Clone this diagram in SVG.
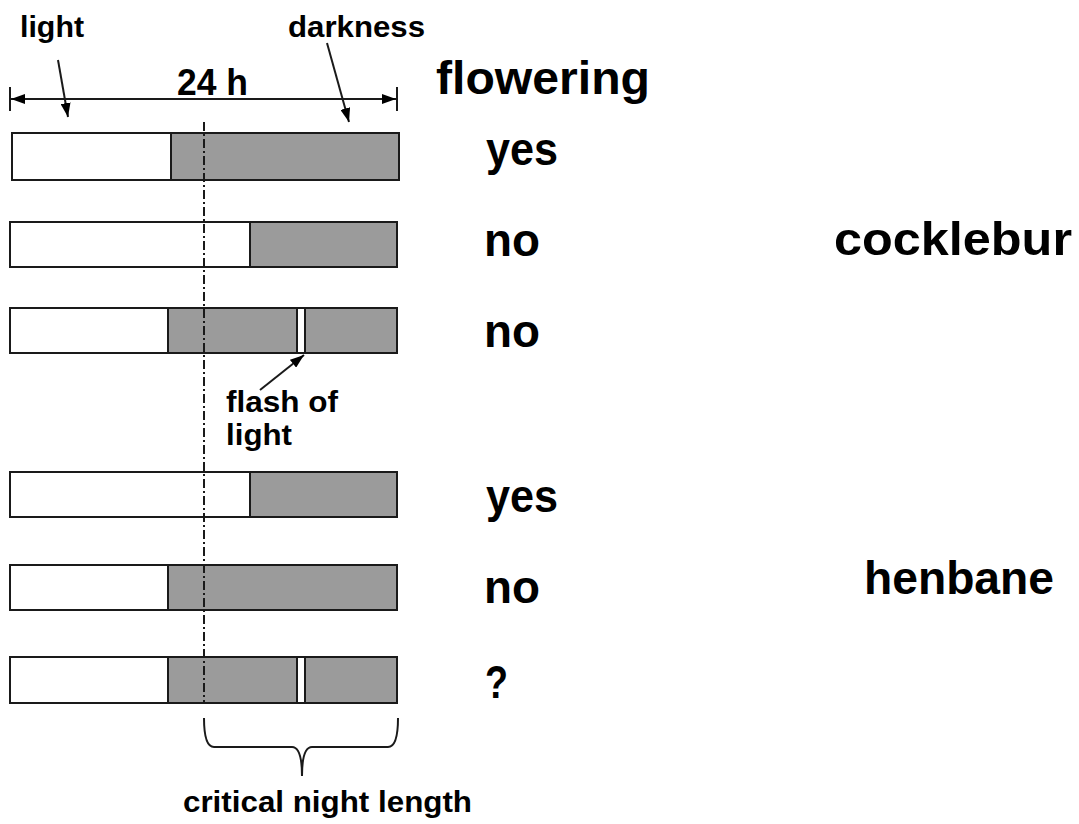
<svg xmlns="http://www.w3.org/2000/svg" width="1079" height="824" viewBox="0 0 1079 824">
<defs>
<style>
.bar{stroke:#1a1a1a;stroke-width:2}
.lt{fill:#ffffff}
.dk{fill:#9b9b9b}
.t{font-family:"Liberation Sans",Arial,sans-serif;font-weight:bold;fill:#000}
.big{font-size:46px}
.sm{font-size:30px}
.ln{stroke:#1a1a1a;stroke-width:2;fill:none}
</style>
<marker id="ah" viewBox="0 0 14 10" refX="14" refY="5" markerWidth="14" markerHeight="10" markerUnits="userSpaceOnUse" orient="auto-start-reverse">
<path d="M0,0 L14,5 L0,10 Z" fill="#000"/>
</marker>
</defs>
<rect width="1079" height="824" fill="#fff"/>

<g id="header">
<text class="t sm" x="20" y="37" textLength="64" lengthAdjust="spacingAndGlyphs">light</text>
<text class="t sm" x="288" y="37" textLength="137" lengthAdjust="spacingAndGlyphs">darkness</text>
<text class="t" x="177" y="95" font-size="36" textLength="71" lengthAdjust="spacingAndGlyphs">24 h</text>
<text class="t big" x="436" y="94" textLength="214" lengthAdjust="spacingAndGlyphs">flowering</text>
</g>

<g id="bar1">
<rect class="bar lt" x="12" y="133" width="387" height="47"/>
<rect class="bar dk" x="171" y="133" width="228" height="47"/>
<text class="t big" x="486" y="165" textLength="72" lengthAdjust="spacingAndGlyphs">yes</text>
</g>
<g id="bar2">
<rect class="bar lt" x="10" y="222" width="387" height="45"/>
<rect class="bar dk" x="250" y="222" width="147" height="45"/>
<text class="t big" x="484" y="256" textLength="56" lengthAdjust="spacingAndGlyphs">no</text>
</g>
<g id="cocklebur">
<text class="t big" x="834" y="255" textLength="238" lengthAdjust="spacingAndGlyphs">cocklebur</text>
</g>
<g id="bar3">
<rect class="bar lt" x="10" y="308" width="387" height="45"/>
<rect class="bar dk" x="168" y="308" width="229" height="45"/>
<rect class="bar lt" x="297" y="308" width="8" height="45"/>
<text class="t big" x="484" y="347" textLength="56" lengthAdjust="spacingAndGlyphs">no</text>
</g>
<g id="flash">
<text class="t sm" x="226" y="412" textLength="112" lengthAdjust="spacingAndGlyphs">flash of</text>
<text class="t sm" x="226" y="445" textLength="66" lengthAdjust="spacingAndGlyphs">light</text>
</g>
<g id="bar4">
<rect class="bar lt" x="10" y="472" width="387" height="45"/>
<rect class="bar dk" x="250" y="472" width="147" height="45"/>
<text class="t big" x="486" y="512" textLength="72" lengthAdjust="spacingAndGlyphs">yes</text>
</g>
<g id="bar5">
<rect class="bar lt" x="10" y="565" width="387" height="45"/>
<rect class="bar dk" x="168" y="565" width="229" height="45"/>
<text class="t big" x="484" y="603" textLength="56" lengthAdjust="spacingAndGlyphs">no</text>
</g>
<g id="henbane">
<text class="t big" x="864" y="594" textLength="190" lengthAdjust="spacingAndGlyphs">henbane</text>
</g>
<g id="bar6">
<rect class="bar lt" x="10" y="657" width="387" height="46"/>
<rect class="bar dk" x="168" y="657" width="229" height="46"/>
<rect class="bar lt" x="297" y="657" width="8" height="46"/>
<text class="t big" x="485" y="698" textLength="23" lengthAdjust="spacingAndGlyphs">?</text>
</g>
<g id="critical">
<path class="ln" d="M204,718 Q204,747 214,747 L292,747 Q302,747 302,776 Q302,747 312,747 L388,747 Q398,747 398,718"/>
<text class="t sm" x="183" y="812" textLength="289" lengthAdjust="spacingAndGlyphs">critical night length</text>
</g>

<g id="connectors">
<line class="ln" x1="204" y1="122" x2="204" y2="703" stroke-dasharray="9,3,2,3" stroke-width="1.5"/>
<line class="ln" x1="10" y1="87" x2="10" y2="111"/>
<line class="ln" x1="397" y1="87" x2="397" y2="111"/>
<line class="ln" x1="11" y1="99" x2="396" y2="99" marker-start="url(#ah)" marker-end="url(#ah)"/>
<line class="ln" x1="58" y1="60" x2="68" y2="117" marker-end="url(#ah)"/>
<line class="ln" x1="327" y1="43" x2="349" y2="122" marker-end="url(#ah)"/>
<line class="ln" x1="260" y1="390" x2="304" y2="355" marker-end="url(#ah)"/>
</g>
</svg>
